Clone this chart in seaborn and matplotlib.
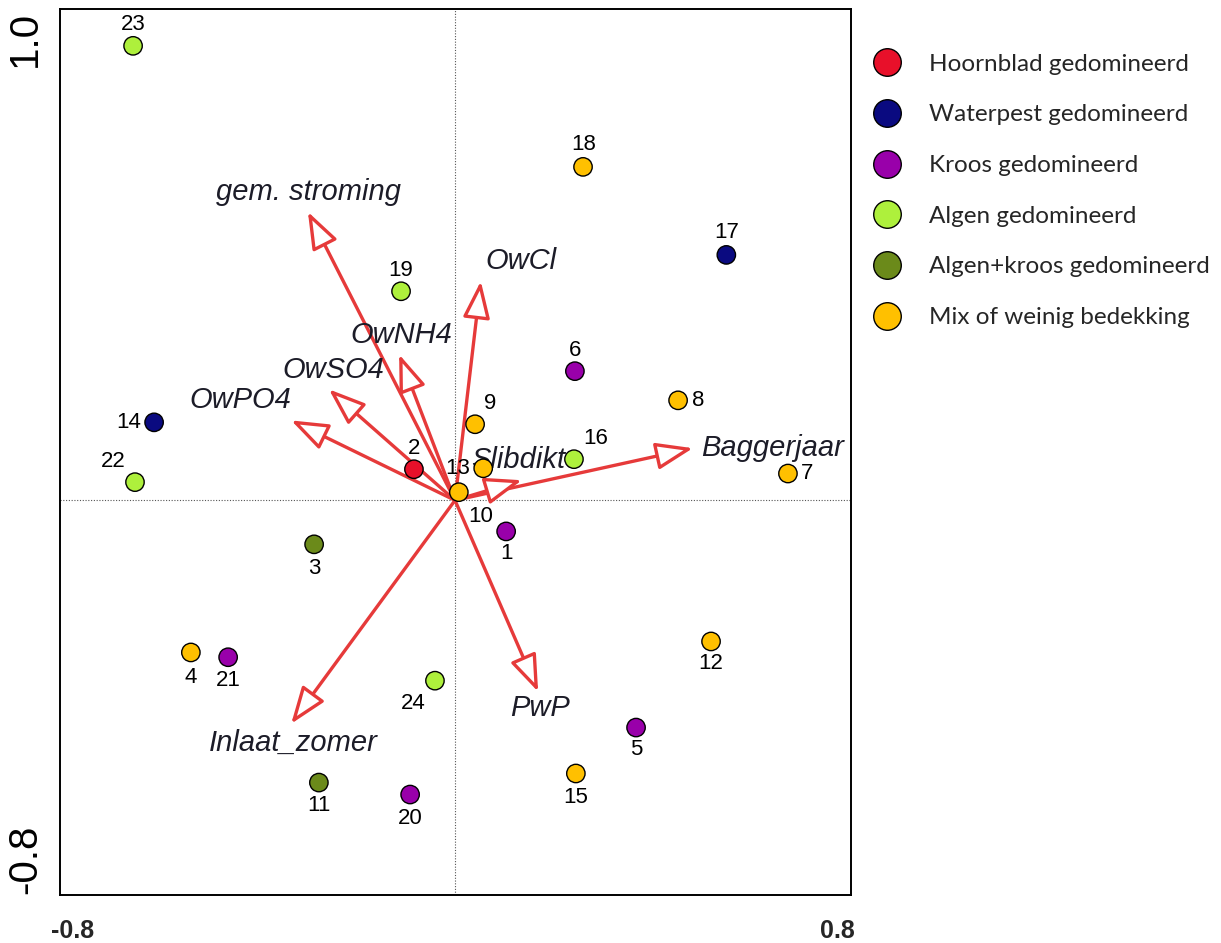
import numpy as np
import pandas as pd
import matplotlib
matplotlib.use("Agg")
import matplotlib.pyplot as plt
import seaborn as sns

# ==========================================================
# DATA (site scores and environmental vectors)
# ==========================================================

site_ids = ["1", "2", "3", "4", "5", "6", "7", "8", "9", "10", "11", "12",
            "13", "14", "15", "16", "17", "18", "19", "20", "21", "22", "23", "24"]
site_x = [0.107, -0.086, -0.295, -0.553, 0.379, 0.251, 0.697, 0.467, 0.042, 0.008, -0.285, 0.536,
          0.059, -0.630, 0.253, 0.249, 0.568, 0.268, -0.113, -0.094, -0.475, -0.670, -0.674, -0.042]
site_y = [-0.065, 0.065, -0.092, -0.318, -0.475, 0.270, 0.056, 0.209, 0.159, 0.017, -0.590, -0.295,
          0.067, 0.163, -0.571, 0.086, 0.513, 0.697, 0.437, -0.615, -0.328, 0.038, 0.950, -0.377]
site_group = ["Kroos gedomineerd", "Hoornblad gedomineerd", "Algen+kroos gedomineerd",
              "Mix of weinig bedekking", "Kroos gedomineerd", "Kroos gedomineerd",
              "Mix of weinig bedekking", "Mix of weinig bedekking", "Mix of weinig bedekking",
              "Mix of weinig bedekking", "Algen+kroos gedomineerd", "Mix of weinig bedekking",
              "Mix of weinig bedekking", "Waterpest gedomineerd", "Mix of weinig bedekking",
              "Algen gedomineerd", "Waterpest gedomineerd", "Mix of weinig bedekking",
              "Algen gedomineerd", "Kroos gedomineerd", "Kroos gedomineerd",
              "Algen gedomineerd", "Algen gedomineerd", "Algen gedomineerd"]

groups = ["Hoornblad gedomineerd", "Waterpest gedomineerd", "Kroos gedomineerd",
          "Algen gedomineerd", "Algen+kroos gedomineerd", "Mix of weinig bedekking"]
group_colors = ["#E8102A", "#0A0A80", "#9900AA", "#AEF03C", "#6B8A1A", "#FFC000"]

env_names = ["gem. stroming", "OwNH4", "OwSO4", "OwPO4", "OwCl",
             "Baggerjaar", "Slibdikte", "Inlaat_zomer", "PwP"]
env_x = [-0.308, -0.117, -0.264, -0.343, 0.054, 0.498, 0.140, -0.343, 0.174]
env_y = [0.603, 0.305, 0.232, 0.167, 0.458, 0.109, 0.042, -0.467, -0.400]

# ==========================================================
# LAYOUT (label placement, not data)
# ==========================================================

# offset of each site number from its point, in pixels (dx, dy up)
site_label_offset = {
    "1": (0, -22), "2": (0, 21), "3": (0, -24), "4": (0, -25), "5": (0, -22),
    "6": (0, 21), "7": (19, 0), "8": (20, 0), "9": (15, 21), "10": (22, -24),
    "11": (0, -23), "12": (0, -22), "13": (-26, 0), "14": (-25, 0), "15": (0, -24),
    "16": (22, 21), "17": (0, 22), "18": (1, 22), "19": (0, 21), "20": (0, -24),
    "21": (0, -23), "22": (-22, 21), "23": (0, 21), "24": (-22, -23),
}
# position of each vector label in data units and its alignment
env_label_pos = {
    "gem. stroming": (-0.306, 0.644, "center"),
    "OwNH4": (-0.113, 0.345, "center"),
    "OwSO4": (-0.255, 0.272, "center"),
    "OwPO4": (-0.450, 0.209, "center"),
    "OwCl": (0.138, 0.500, "center"),
    "Baggerjaar": (0.664, 0.109, "center"),
    "Slibdikte": (0.034, 0.084, "left"),
    "Inlaat_zomer": (-0.339, -0.508, "center"),
    "PwP": (0.178, -0.435, "center"),
}

ARROW_RED = "#E63A3A"
TEXT_DARK = "#1C1C28"

# ==========================================================
# PLOT
# ==========================================================

sns.set_theme(style="white")
plt.rcParams["font.family"] = ["Liberation Sans", "DejaVu Sans"]

df = pd.DataFrame({"site": site_ids, "x": site_x, "y": site_y, "group": site_group})

fig = plt.figure(figsize=(12.21, 9.43), dpi=100)
ax = fig.add_axes([60 / 1221, 1 - 895 / 943, 791 / 1221, 886 / 943])

ax.set_xlim(-0.827, 0.829)
ax.set_ylim(-0.825, 1.027)

# reference lines through the origin
ax.axhline(0, color="#555555", lw=0.8, ls=(0, (1, 1.5)), zorder=1)
ax.axvline(0, color="#555555", lw=0.8, ls=(0, (1, 1.5)), zorder=1)

# environmental vectors
for name, ex, ey in zip(env_names, env_x, env_y):
    ax.annotate("", xy=(ex, ey), xytext=(0, 0),
                arrowprops=dict(arrowstyle="-|>,head_length=1.9,head_width=0.7",
                                color=ARROW_RED, lw=2.4, fc="white",
                                shrinkA=0, shrinkB=0),
                zorder=2)
    lx, ly, ha = env_label_pos[name]
    ax.text(lx, ly, name, ha=ha, va="center", fontsize=21, style="italic",
            color=TEXT_DARK, zorder=2.5)

sns.scatterplot(data=df, x="x", y="y", hue="group", hue_order=groups,
                palette=group_colors, s=175, edgecolor="black", linewidth=1.0,
                ax=ax, zorder=3)

for sid, sx, sy in zip(site_ids, site_x, site_y):
    dx, dy = site_label_offset[sid]
    ax.annotate(sid, xy=(sx, sy), xytext=(dx * 0.72, dy * 0.72),
                textcoords="offset points", ha="center", va="center",
                fontsize=16, color="black", zorder=4)

# axes styling
for side in ["top", "right", "bottom", "left"]:
    ax.spines[side].set_color("black")
    ax.spines[side].set_linewidth(1.4)

ticks = np.round(np.arange(-0.8, 0.81, 0.2), 1)
ax.set_xticks(ticks)
ax.set_xticklabels(["-0.8" if t == -0.8 else ("0.8" if t == 0.8 else "") for t in ticks],
                   fontsize=18, fontweight="bold")
ax.set_yticks(np.round(np.arange(-0.8, 1.01, 0.2), 1))
ax.set_yticklabels([])
ax.tick_params(axis="both", direction="inout", length=8, width=1.2, color="black")
ax.tick_params(axis="x", pad=13)

ytrans = ax.get_yaxis_transform()
ax.text(-0.044, 1.024, "1.0", rotation=90, ha="center", va="top", fontsize=29,
        transform=ytrans, color="black", clip_on=False)
ax.text(-0.044, -0.822, "-0.8", rotation=90, ha="center", va="bottom", fontsize=29,
        transform=ytrans, color="black", clip_on=False)

ax.set_xlabel("")
ax.set_ylabel("")

# legend outside, to the right
handles, labels = ax.get_legend_handles_labels()
ax.legend(handles, labels, loc="upper left", bbox_to_anchor=(863 / 1221, 1 - 44 / 943),
          bbox_transform=fig.transFigure, frameon=False, markerscale=1.5,
          prop={"family": "Lato", "size": 17.5}, labelspacing=1.22,
          handletextpad=1.1, borderaxespad=0, handlelength=1.2)

plt.savefig("out.png", dpi=100)
plt.close()
